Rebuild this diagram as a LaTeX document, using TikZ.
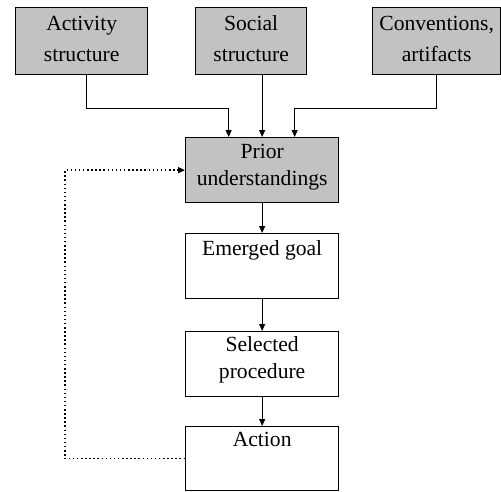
\documentclass[tikz,border=0pt]{standalone}
\usepackage{fontspec}
\setmainfont{Liberation Serif}
\usetikzlibrary{arrows.meta}
\begin{document}
\begin{tikzpicture}[x=1pt,y=-1pt,
  box/.style={draw=black,line width=1.3pt,rectangle,inner sep=0pt,anchor=north west},
  shaded/.style={box,fill=black!24},
  plain/.style={box,fill=white},
  txt/.style={anchor=north,inner sep=0pt,align=center,font=\fontsize{21.6}{27}\selectfont},
  toptxt/.style={txt,font=\fontsize{21.6}{31}\selectfont},
  arr/.style={line width=0.9pt,-{Triangle[length=7pt,width=6pt]}},
  dotarr/.style={line width=1.5pt,dash pattern=on 1.5pt off 2.6pt,-{Triangle[length=7pt,width=6pt]}}
]
\useasboundingbox (0,0) rectangle (501,491);
% top row
\node[shaded,minimum width=132pt,minimum height=67pt] (act) at (15,7) {};
\node[shaded,minimum width=111pt,minimum height=67pt] (soc) at (195,7) {};
\node[shaded,minimum width=128pt,minimum height=67pt] (conv) at (372,7) {};
\node[toptxt] (actT) at ([yshift=-8.5pt]act.north) {Activity\\structure};
\node[toptxt] (socT) at ([yshift=-8.5pt]soc.north) {Social\\structure};
\node[toptxt] (convT) at ([yshift=-8.5pt]conv.north) {Conventions,\\artifacts};
% column
\node[shaded,minimum width=153pt,minimum height=65pt] (prior) at (185,137) {};
\node[plain,minimum width=153pt,minimum height=65pt] (goal) at (185,233) {};
\node[plain,minimum width=153pt,minimum height=65pt] (proc) at (185,331) {};
\node[plain,minimum width=153pt,minimum height=64pt] (action) at (185,426) {};
\node[txt] (priorT) at ([yshift=-7pt]prior.north) {Prior\\understandings};
\node[txt] (goalT) at ([yshift=-7pt]goal.north) {Emerged goal};
\node[txt] (procT) at ([yshift=-5pt]proc.north) {Selected\\procedure};
\node[txt] (actionT) at ([yshift=-6pt]action.north) {Action};
% connectors
\draw[arr] ([xshift=5pt]act.south) -- ++(0,33) -| ([xshift=-33.5pt]prior.north);
\draw[arr] (soc.south -| prior.north) -- (prior.north);
\draw[arr] (conv.south) -- ++(0,33) -| ([xshift=32.5pt]prior.north);
\draw[arr] (prior) -- (goal);
\draw[arr] (goal) -- (proc);
\draw[arr] (proc) -- (action);
\draw[dotarr] (action.west) -- ++(-120,0) |- (prior.west);
\end{tikzpicture}
\end{document}
